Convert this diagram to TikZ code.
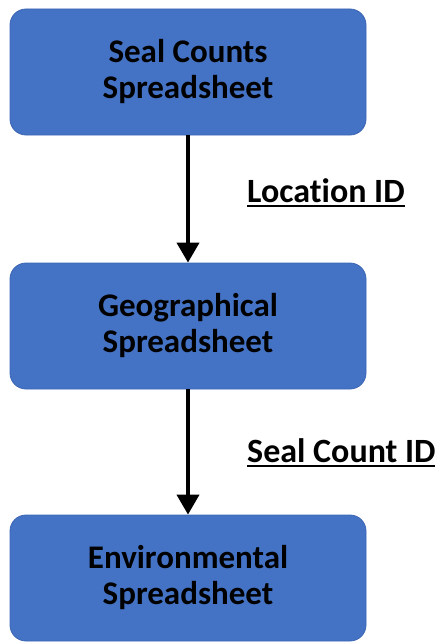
\documentclass[tikz,border=0pt]{standalone}
\usepackage{fontspec}
\setmainfont{Carlito}[Ligatures={NoCommon}]
\usetikzlibrary{arrows.meta}
\definecolor{boxblue}{HTML}{4472C4}
\definecolor{boxedge}{HTML}{3B65B4}
\newcommand\myul[1]{\leavevmode\vtop{\hbox{#1}\kern3pt\hrule height 2pt}}
\begin{document}
\begin{tikzpicture}[x=1pt,y=-1pt,
 sheet/.style={draw=boxedge, line width=0.8pt, fill=boxblue, rounded corners=16pt,
   minimum width=356pt, minimum height=126pt, align=center,
   font=\fontsize{33}{36}\selectfont\bfseries, inner sep=0pt},
 link/.style={line width=4pt, -{Triangle[width=22pt,length=20pt]}},
 lab/.style={anchor=base west, font=\fontsize{34}{36}\selectfont\bfseries, inner sep=0pt}]
\useasboundingbox (0,0) rectangle (435,642);
\node[sheet] (a) at (188,72) {Seal Counts\\Spreadsheet};
\node[sheet] (b) at (188,326) {Geographical\\Spreadsheet};
\node[sheet] (c) at (188,578) {Environmental\\Spreadsheet};
\draw[link] (a) -- (b);
\draw[link] (b) -- (c);
\node[lab] (l1) at (247,202) {\myul{Location ID}};
\node[lab] (l2) at (247,462) {\myul{Seal Count ID}};
\end{tikzpicture}
\end{document}
